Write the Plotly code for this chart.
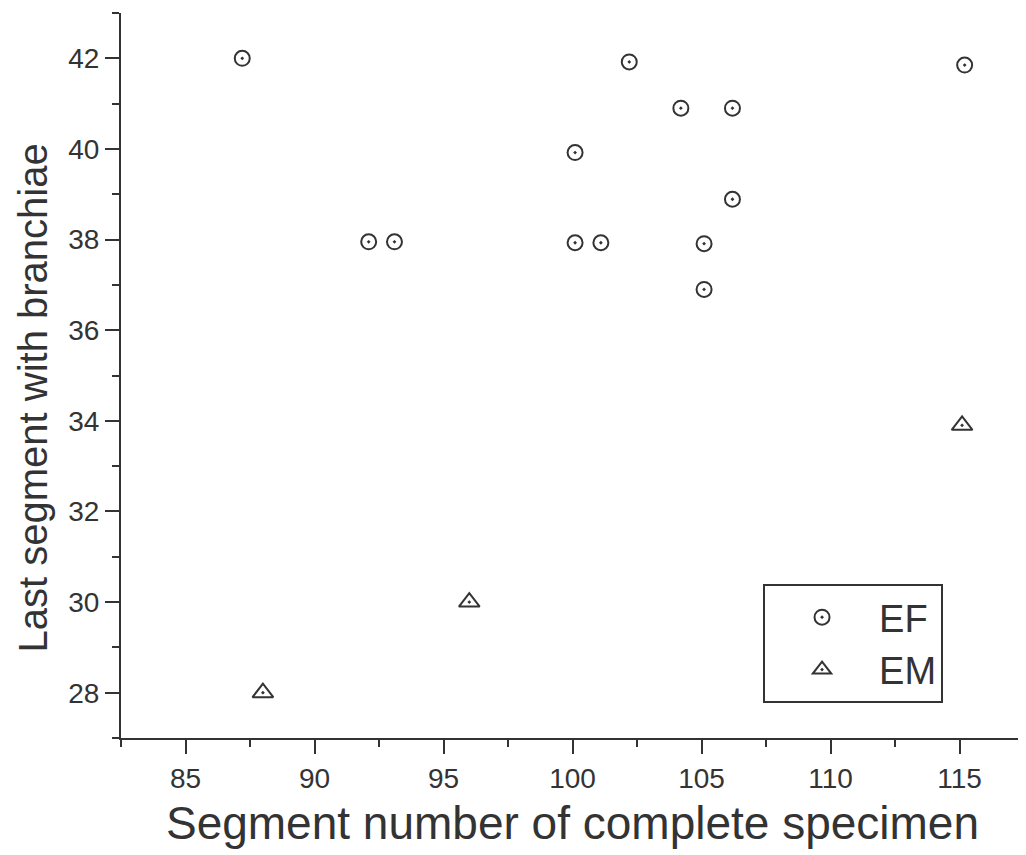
import plotly.graph_objects as go

# EF series
ef_x = [87.2, 92.1, 93.1, 100.1, 100.1, 101.1, 102.2, 104.2, 105.1, 105.1, 106.2, 106.2, 115.2]
ef_y = [42.0, 37.95, 37.95, 39.92, 37.93, 37.93, 41.92, 40.9, 37.91, 36.9, 40.9, 38.89, 41.85]
# EM series
em_x = [88.0, 96.0, 115.1]
em_y = [28.0, 30.0, 33.9]

x_ticks = [85, 90, 95, 100, 105, 110, 115]
y_ticks = [28, 30, 32, 34, 36, 38, 40, 42]

INK = "#333333"
FONT = "Liberation Sans, Arial, sans-serif"

fig = go.Figure()
fig.add_trace(go.Scatter(
    x=ef_x, y=ef_y, mode="markers", name="EF",
    marker=dict(symbol="circle-open-dot", size=15, color=INK, line=dict(width=2, color=INK)),
))
fig.add_trace(go.Scatter(
    x=em_x, y=em_y, mode="markers", name="EM",
    marker=dict(symbol="triangle-up-open-dot", size=18, color=INK, line=dict(width=2, color=INK)),
))

axis_common = dict(
    showgrid=False, zeroline=False, showline=True, linecolor=INK, linewidth=2,
    ticks="outside", tickcolor=INK, tickwidth=2, ticklen=14,
    tickfont=dict(family=FONT, size=28, color=INK),
)

fig.update_xaxes(
    range=[82.5, 117.5], tickvals=x_ticks, ticktext=[str(v) for v in x_ticks],
    minor=dict(ticks="outside", ticklen=7, tickwidth=2, tickcolor=INK, dtick=2.5, tick0=82.5),
    title=dict(text="Segment number of complete specimen", font=dict(family=FONT, size=46, color=INK), standoff=14),
    **axis_common,
)
fig.update_yaxes(
    range=[27, 43], tickvals=y_ticks, ticktext=[str(v) for v in y_ticks],
    minor=dict(ticks="outside", ticklen=7, tickwidth=2, tickcolor=INK, dtick=1, tick0=27),
    **axis_common,
)

fig.add_annotation(
    text="Last segment with branchiae", textangle=-90,
    xref="paper", yref="paper", x=-0.098, y=0.469, xanchor="center", yanchor="middle",
    showarrow=False, font=dict(family=FONT, size=40, color=INK),
)

fig.update_layout(
    width=1018, height=847,
    margin=dict(l=113, r=2, t=5, b=117, autoexpand=False),
    paper_bgcolor="white", plot_bgcolor="white",
    showlegend=True,
    legend=dict(
        x=0.711, y=0.2124, xanchor="left", yanchor="top",
        bordercolor=INK, borderwidth=2, bgcolor="white",
        font=dict(family=FONT, size=38, color=INK),
        itemwidth=104, tracegroupgap=0,
    ),
)

fig.write_html("out.html")
